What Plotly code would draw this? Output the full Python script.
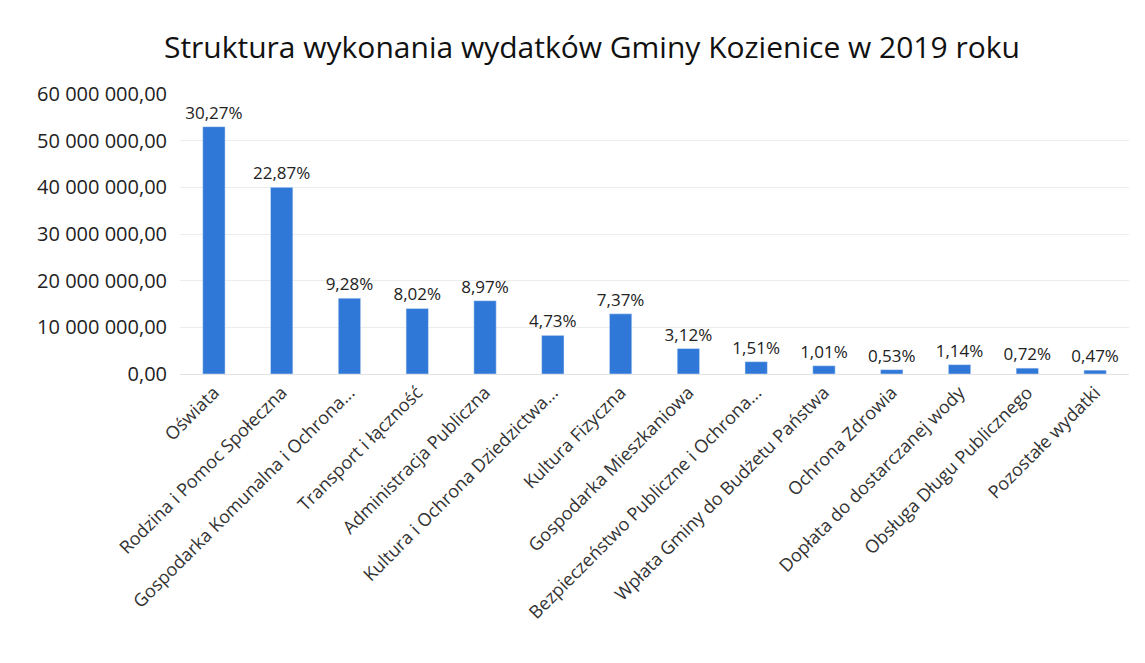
import plotly.graph_objects as go

categories = [
    "Oświata",
    "Rodzina i Pomoc Społeczna",
    "Gospodarka Komunalna i Ochrona...",
    "Transport i łączność",
    "Administracja Publiczna",
    "Kultura i Ochrona Dziedzictwa...",
    "Kultura Fizyczna",
    "Gospodarka Mieszkaniowa",
    "Bezpieczeństwo Publiczne i Ochrona...",
    "Wpłata Gminy do Budżetu Państwa",
    "Ochrona Zdrowia",
    "Dopłata do dostarczanej wody",
    "Obsługa Długu Publicznego",
    "Pozostałe wydatki",
]
values = [
    53000000, 40000000, 16250000, 14050000, 15700000, 8280000, 12900000,
    5460000, 2640000, 1770000, 930000, 2000000, 1260000, 820000,
]
shares = ["30,27%", "22,87%", "9,28%", "8,02%", "8,97%", "4,73%", "7,37%",
          "3,12%", "1,51%", "1,01%", "0,53%", "1,14%", "0,72%", "0,47%"]

font = "Open Sans, Lato, sans-serif"

fig = go.Figure()
fig.add_trace(go.Bar(
    x=categories,
    y=values,
    text=shares,
    textposition="outside",
    constraintext="none",
    cliponaxis=False,
    textfont=dict(size=17, color="#222222", family=font),
    marker_color="#2f78d8",
))

fig.update_layout(
    title=dict(text="Struktura wykonania wydatków Gminy Kozienice w 2019 roku",
               x=0.51, xanchor="center", y=0.94, yanchor="middle",
               font=dict(size=30, color="#111111", family=font)),
    width=1145,
    height=663,
    margin=dict(l=172, r=24, t=86, b=297),
    plot_bgcolor="white",
    paper_bgcolor="white",
    separators=", ",
    bargap=0.67,
    showlegend=False,
    font=dict(family=font, color="#222222"),
)
fig.update_yaxes(
    range=[0, 60000000],
    dtick=10000000,
    tickformat=",.2f",
    showgrid=True,
    gridcolor="#ececec",
    zeroline=False,
    tickfont=dict(size=20),
    ticks="",
    ticklabelstandoff=12,
)
fig.update_xaxes(
    tickangle=-45,
    tickfont=dict(size=18, color="#333333"),
    showline=True,
    linecolor="#e2e2e2",
)

fig.write_html("out.html")
